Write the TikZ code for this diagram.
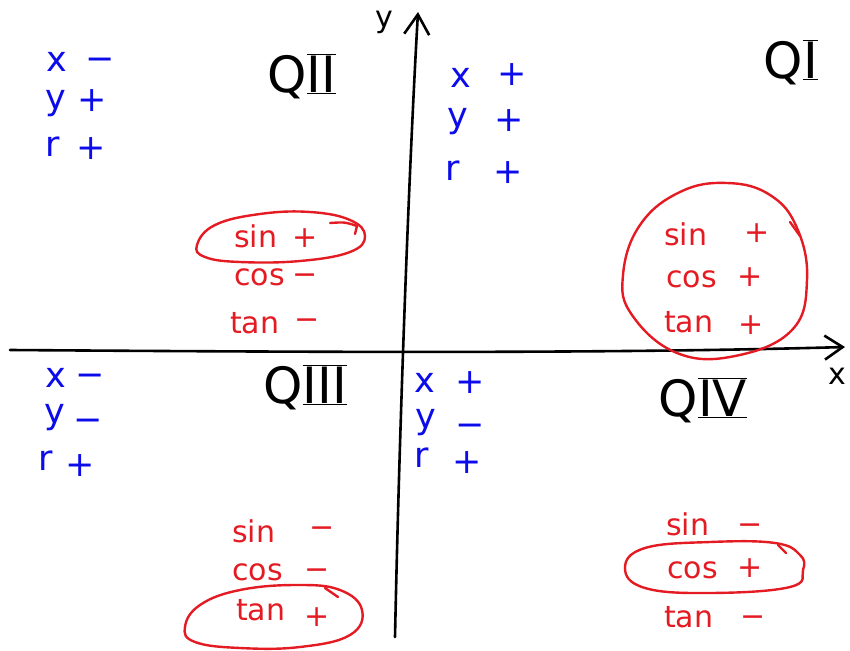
\documentclass[tikz,border=0pt]{standalone}
\usepackage{fontspec}
\setmainfont{DejaVu Sans}
\usetikzlibrary{arrows.meta}
\definecolor{handred}{RGB}{228,27,35}
\definecolor{handblue}{RGB}{12,12,235}
\tikzset{
  bl/.style={text=handblue, font=\fontsize{35}{35}\selectfont, inner sep=0pt, anchor=base west},
  bsign/.style={text=handblue, font=\fontsize{35}{35}\selectfont, inner sep=0pt, anchor=center, text height=22pt, text depth=0pt},
  rd/.style={text=handred, font=\fontsize{30}{30}\selectfont, inner sep=0pt, anchor=base west},
  rsign/.style={text=handred, font=\fontsize{30}{30}\selectfont, inner sep=0pt, anchor=center, text height=19pt, text depth=0pt},
  qlab/.style={font=\fontsize{50}{50}\selectfont, inner sep=0pt, anchor=center},
  axislbl/.style={font=\fontsize{30}{30}\selectfont, inner sep=0pt, anchor=center},
  axisline/.style={line width=2.6pt, line cap=round, line join=round},
  oval/.style={draw=handred, line width=2.4pt, line cap=round, line join=round}
}
\newcommand{\mn}{\char"2212}
\begin{document}
\begin{tikzpicture}[x=1pt,y=-1pt]
\useasboundingbox[fill=white] (0,0) rectangle (850,650);

% axes
\coordinate (xs) at (10,350);
\coordinate (xe) at (845,347);
\coordinate (ys) at (395,637);
\coordinate (ye) at (418,12);
\draw[axisline, -{Straight Barb[length=18pt,width=24pt,line width=2.6pt]}] (xs) .. controls (300,352) and (600,354) .. (xe);
\draw[axisline, -{Straight Barb[length=20pt,width=25pt,line width=2.6pt]}] (ys) .. controls (400,400) and (410,150) .. (ye);
\node[axislbl] (xl) at (837,376) {x};
\node[axislbl] (yl) at (384,22) {y};

% quadrant labels
\node[qlab] (q2) at (302,76) {Q$\overline{\underline{\hbox{II}}}$};
\node[qlab] (q1) at (791,62) {Q$\overline{\underline{\hbox{I}}}$};
\node[qlab] (q3) at (305,387) {Q$\overline{\underline{\hbox{III}}}$};
\node[qlab] (q4) at (703,400) {Q$\overline{\underline{\hbox{IV}}}$};

% blue: QII
\node[bl] (b2x) at (46,72) {x};   \node[bsign] (b2xs) at (100,60) {\mn};
\node[bl] (b2y) at (45,110) {y};  \node[bsign] (b2ys) at (92,100) {+};
\node[bl] (b2r) at (45,156) {r};  \node[bsign] (b2rs) at (91,148) {+};
% blue: QI
\node[bl] (b1x) at (450,88) {x};  \node[bsign] (b1xs) at (512,75) {+};
\node[bl] (b1y) at (447,127) {y}; \node[bsign] (b1ys) at (509,120) {+};
\node[bl] (b1r) at (445,180) {r}; \node[bsign] (b1rs) at (508,172) {+};
% blue: QIII
\node[bl] (b3x) at (45,387) {x};  \node[bsign] (b3xs) at (90,375) {\mn};
\node[bl] (b3y) at (44,423) {y};  \node[bsign] (b3ys) at (88,420) {\mn};
\node[bl] (b3r) at (38,470) {r};  \node[bsign] (b3rs) at (80,465) {+};
% blue: QIV
\node[bl] (b4x) at (414,392) {x}; \node[bsign] (b4xs) at (470,382) {+};
\node[bl] (b4y) at (415,428) {y}; \node[bsign] (b4ys) at (470,425) {\mn};
\node[bl] (b4r) at (414,467) {r}; \node[bsign] (b4rs) at (467,462) {+};

% red: QII
\node[rd] (r2s) at (234,247) {sin}; \node[rsign] (r2ss) at (305,238) {+};
\node[rd] (r2c) at (234,285) {cos}; \node[rsign] (r2cs) at (305,275) {\mn};
\node[rd] (r2t) at (230,333) {tan}; \node[rsign] (r2ts) at (307,320) {\mn};
% red: QI
\node[rd] (r1s) at (664,245) {sin}; \node[rsign] (r1ss) at (757,233) {+};
\node[rd] (r1c) at (666,287) {cos}; \node[rsign] (r1cs) at (750,277) {+};
\node[rd] (r1t) at (664,332) {tan}; \node[rsign] (r1ts) at (751,325) {+};
% red: QIII
\node[rd] (r3s) at (232,542) {sin}; \node[rsign] (r3ss) at (322,528) {\mn};
\node[rd] (r3c) at (232,580) {cos}; \node[rsign] (r3cs) at (317,570) {\mn};
\node[rd] (r3t) at (236,620) {tan}; \node[rsign] (r3ts) at (317,617) {+};
% red: QIV
\node[rd] (r4s) at (666,535) {sin}; \node[rsign] (r4ss) at (750,525) {\mn};
\node[rd] (r4c) at (667,578) {cos}; \node[rsign] (r4cs) at (750,568) {+};
\node[rd] (r4t) at (664,627) {tan}; \node[rsign] (r4ts) at (753,617) {\mn};

% ovals
\draw[oval] plot[smooth cycle, tension=0.7] coordinates {(197,245) (215,225) (260,214) (310,212) (350,220) (365,236) (350,252) (300,261) (240,262) (205,257)};
\draw[oval] (330,223) .. controls (345,222) .. (357,226) -- (355,234);

\draw[oval] plot[smooth cycle, tension=0.7] coordinates {(727,183) (770,195) (797,228) (807,280) (792,330) (735,356) (677,353) (632,315) (623,275) (640,225) (680,192)};
\draw[oval] (790,222) -- (800,236);

\draw[oval] plot[smooth cycle, tension=0.7] coordinates {(185,627) (200,605) (240,590) (297,585) (340,590) (362,610) (350,635) (300,647) (240,648) (195,642)};
\draw[oval] (325,588) -- (338,597);

\draw[oval] plot[smooth cycle, tension=0.7] coordinates {(625,568) (645,548) (710,542) (775,543) (800,555) (803,570) (790,587) (710,593) (645,588)};
\draw[oval] (778,545) -- (786,553);
\end{tikzpicture}
\end{document}
